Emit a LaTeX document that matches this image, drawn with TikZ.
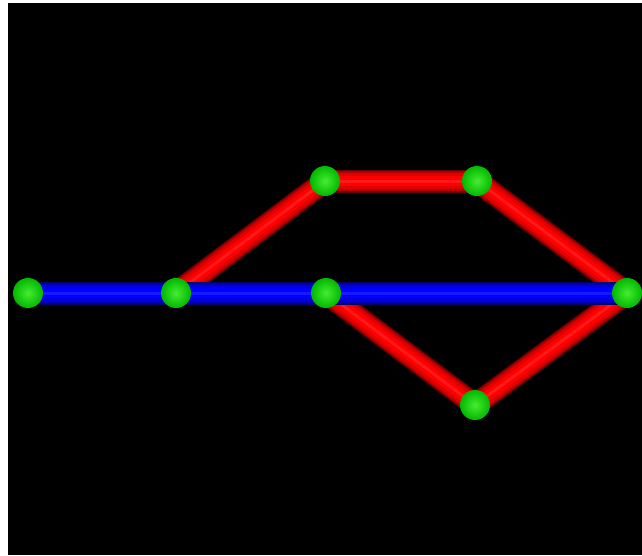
\documentclass[tikz,border=0pt]{standalone}
\usetikzlibrary{shadings}

\begin{document}
\begin{tikzpicture}[
    x=1pt, y=-1pt,
    joint/.style = {circle, inner sep=0pt, minimum size=30pt,
                    inner color={rgb,255:red,70;green,235;blue,50},
                    outer color={rgb,255:red,0;green,185;blue,0}},
    rod/.style   = {line cap=butt}
]

% Frame: thin white margin, black scene
\useasboundingbox (0,0) rectangle (642,555);
\fill[white] (0,0) rectangle (642,555);
\fill[black] (8,3) rectangle (642,555);

% Joint positions
\coordinate (v1) at (28,293);
\coordinate (v2) at (176,293);
\coordinate (v3) at (326,293);
\coordinate (v4) at (325,181);
\coordinate (v5) at (477,181);
\coordinate (v6) at (627,293);
\coordinate (v7) at (475,405);

% Rods, shaded in passes from dark rim to bright core
\foreach \a/\b/\c in {v2/v4/red, v4/v5/red, v5/v6/red, v3/v7/red, v7/v6/red,
                      v1/v2/blue, v2/v3/blue, v3/v6/blue} {
    \draw[rod, line width=23pt, \c!40!black] (\a) -- (\b);
    \draw[rod, line width=20pt, \c!70!black] (\a) -- (\b);
    \draw[rod, line width=16pt, \c!88!black] (\a) -- (\b);
    \draw[rod, line width=10pt, \c] (\a) -- (\b);
    \draw[rod, line width=3pt, \c!90!white] (\a) -- (\b);
}

% Joints
\foreach \v in {v1, v2, v3, v4, v5, v6, v7}
    \node[joint] (j\v) at (\v) {};

\end{tikzpicture}
\end{document}
